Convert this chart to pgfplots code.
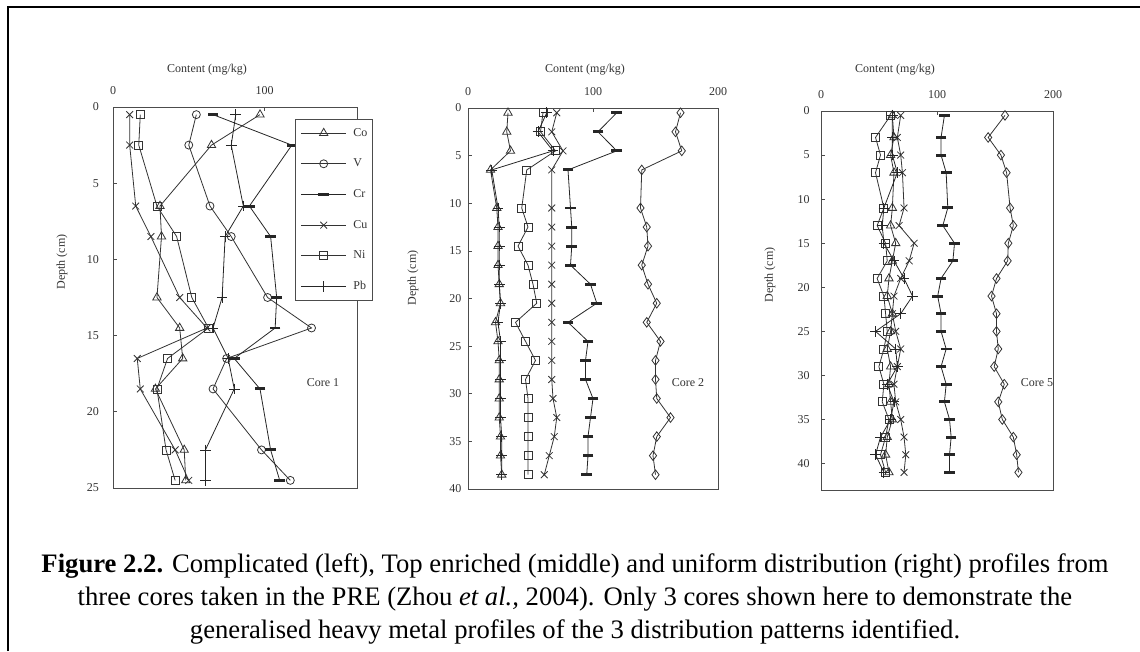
\documentclass[border=0pt]{standalone}
\usepackage{pgfplots}
\usepackage{pgfplotstable}
\pgfplotsset{compat=1.18}
\usepackage{fontspec}
\setmainfont{Liberation Serif}

\pgfplotstableread{
d    Co  V    Cr   Cu  Ni  Pb
0.5  97  55   66   11  18  81
2.5  65  50   118  11  17  78
6.5  31  64   90   15  29  86
8.5  32  78   104  25  42  74
12.5 29  102  108  44  52  72
14.5 44  131  107  62  63  66
16.5 46  75   80   16  36  76
18.5 28  66   97   18  29  80
22.5 47  98   104  41  35  61
24.5 48  117  110  50  41  61
}\coreone

\pgfplotstableread{
d    Co  V    Cr   Cu  Ni  Pb
0.5  32  170  119  71  60  63
2.5  31  166  104  67  58  56
4.5  34  171  119  76  70  68
6.5  18  139  80   67  47  19
10.5 23  138  82   67  43  24
12.5 24  143  83   67  48  25
14.5 24  144  83   67  40  25
16.5 24  139  82   67  48  25
18.5 25  144  98   67  52  25
20.5 26  151  103  67  55  26
22.5 22  143  80   67  38  24
24.5 24  154  96   67  46  26
26.5 25  150  94   67  54  26
28.5 25  150  94   67  46  26
30.5 25  151  100  68  48  26
32.5 25  162  98   71  48  26
34.5 26  151  96   69  48  27
36.5 26  148  96   65  48  27
38.5 27  150  95   61  48  27
}\coretwo

\pgfplotstableread{
d    Co    V      Cr     Cu    Ni    Pb
0.5  61.5  158.6  106.4  68.7  60.0  61.5
3    62.9  144.1  103.5  65.8  47.0  61.5
5    60.0  155.1  103.5  68.7  51.3  61.5
7    62.9  160.0  107.9  70.2  47.0  65.8
11   61.5  163.0  109.3  71.6  54.2  54.2
13   60.0  165.8  105.0  67.3  48.4  52.8
15   64.4  161.5  115.1  80.3  55.7  54.2
17   61.5  160.9  113.7  76.0  57.1  62.9
19   58.6  151.3  103.5  68.7  48.4  71.6
21   57.1  147.0  100.6  62.9  54.2  78.9
23   61.5  151.3  103.5  61.5  55.7  68.7
25   60.0  151.3  103.5  64.4  57.1  47.0
27   57.1  152.8  107.9  68.7  54.2  64.4
29   60.0  149.3  103.5  65.8  49.9  65.8
31   58.6  158.0  107.9  62.9  54.2  57.1
33   60.0  152.8  106.4  64.4  52.8  62.9
35   61.5  156.3  110.8  68.7  58.6  60.0
37   57.1  165.8  112.2  71.6  55.7  51.3
39   55.7  168.7  110.8  73.1  51.3  47.0
41   58.6  170.2  110.8  71.6  55.7  54.2
}\corefive

\pgfplotsset{
  core/.style={
    scale only axis, anchor=center, y dir=reverse,
    xmin=0, ymin=0,
    xtick pos=right, xticklabel pos=right, ytick pos=left,
    tick align=inside, major tick length=3pt,
    every tick/.style={black!70, line width=0.5pt},
    axis line style={black!70, line width=0.6pt},
    tick label style={font=\fontsize{9}{10}\selectfont, text=black!80},
    /pgf/number format/assume math mode=true,
    xticklabel shift=6pt,
  },
  sCo/.style={black!80, line width=0.6pt, mark=triangle, mark size=3.6pt, mark options={solid, fill=white}},
  sV/.style={black!80, line width=0.6pt, mark=o, mark size=3pt, mark options={solid, fill=white}},
  sVd/.style={black!80, line width=0.6pt, mark=diamond, mark size=3.6pt, mark options={solid, fill=white}},
  sCr/.style={black!85, line width=0.6pt, mark=-, mark size=4pt, mark options={solid, line width=2.2pt}},
  sCu/.style={black!80, line width=0.6pt, mark=x, mark size=3.6pt, mark options={solid}},
  sNi/.style={black!80, line width=0.6pt, mark=square, mark size=3pt, mark options={solid, fill=white}},
  sPb/.style={black!85, line width=0.6pt, mark=+, mark size=4pt, mark options={solid}},
}

\begin{document}
\begin{tikzpicture}
\path[use as bounding box] (0,0) rectangle (855pt,488.25pt);
\draw[line width=1.8pt] (6pt,0) -- (6pt,483.2pt) -- (855pt,483.2pt);

% Core 1
\begin{axis}[core, at={(176.25pt,265.125pt)}, width=183pt, height=285.75pt,
  xmax=161, ymax=25, xtick={0,100}, ytick={0,5,...,25}, yticklabel shift=7pt,
  legend style={at={(0.746,0.968)}, anchor=north west, draw=black!70, fill=white,
    font=\fontsize{9}{10}\selectfont, text=black!80, row sep=14.5pt,
    inner xsep=4pt, inner ysep=6pt,
    nodes={inner sep=0pt, text height=6.5pt, text depth=2pt},
    /tikz/every odd column/.append style={column sep=5pt}},
  legend cell align=left,
  legend image code/.code={\draw[mark repeat=2, mark phase=2, #1] plot coordinates {(0pt,0pt) (17pt,0pt) (34pt,0pt)};},
]
\addplot[sCo] table[x=Co, y=d] {\coreone};
\addplot[sV]  table[x=V,  y=d] {\coreone};
\addplot[sCr] table[x=Cr, y=d] {\coreone};
\addplot[sCu] table[x=Cu, y=d] {\coreone};
\addplot[sNi] table[x=Ni, y=d] {\coreone};
\addplot[sPb] table[x=Pb, y=d] {\coreone};
\legend{Co, V, Cr, Cu, Ni, Pb}
\end{axis}

% Core 2
\begin{axis}[core, at={(444.75pt,264.375pt)}, width=187.5pt, height=285.75pt,
  xmax=200, ymax=40, xtick={0,100,200}, ytick={0,5,...,40}, yticklabel shift=1.5pt]
\addplot[sCo] table[x=Co, y=d] {\coretwo};
\addplot[sVd] table[x=V,  y=d] {\coretwo};
\addplot[sCr] table[x=Cr, y=d] {\coretwo};
\addplot[sCu] table[x=Cu, y=d] {\coretwo};
\addplot[sNi] table[x=Ni, y=d] {\coretwo};
\addplot[sPb] table[x=Pb, y=d] {\coretwo};
\end{axis}

% Core 5
\begin{axis}[core, at={(702.75pt,262.875pt)}, width=174pt, height=284.25pt,
  xmax=200, ymax=43, xtick={0,100,200}, ytick={0,5,...,40}, yticklabel shift=5pt]
\addplot[sCo] table[x=Co, y=d] {\corefive};
\addplot[sVd] table[x=V,  y=d] {\corefive};
\addplot[sCr] table[x=Cr, y=d] {\corefive};
\addplot[sCu] table[x=Cu, y=d] {\corefive};
\addplot[sNi] table[x=Ni, y=d] {\corefive};
\addplot[sPb] table[x=Pb, y=d] {\corefive};
\end{axis}

\begin{scope}[every node/.style={font=\fontsize{9}{10}\selectfont, text=black!80}]
\node at (155.25pt,435.75pt) {Content (mg/kg)};
\node at (438.75pt,435.75pt) {Content (mg/kg)};
\node at (671.25pt,435.75pt) {Content (mg/kg)};
\node[rotate=90] at (46.5pt,291.75pt) {Depth (cm)};
\node[rotate=90] at (309.75pt,279.75pt) {Depth (cm)};
\node[rotate=90] at (577.5pt,282pt) {Depth (cm)};
\node at (242.25pt,201pt) {Core 1};
\node at (516pt,201pt) {Core 2};
\node at (777.75pt,201pt) {Core 5};
\end{scope}

\begin{scope}[every node/.style={anchor=base, inner sep=0pt, font=\fontsize{20}{24}\selectfont}]
\node at (431.25pt,59.25pt) {\textbf{Figure 2.2.} Complicated (left), Top enriched (middle) and uniform distribution (right) profiles from};
\node at (431.25pt,34.5pt) {three cores taken in the PRE (Zhou \textit{et al.,} 2004). Only 3 cores shown here to demonstrate the};
\node at (431.25pt,9.75pt) {generalised heavy metal profiles of the 3 distribution patterns identified.};
\end{scope}
\end{tikzpicture}
\end{document}
